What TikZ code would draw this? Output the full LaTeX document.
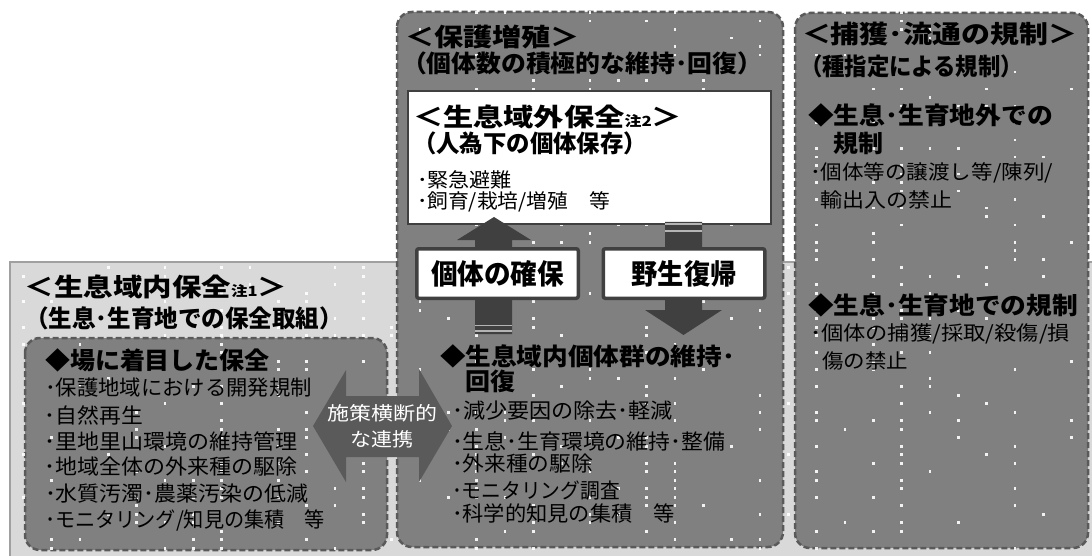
\documentclass[tikz,border=0pt]{standalone}
\usepackage{fontspec}
\setmainfont{Noto Sans CJK JP}
\usepackage{graphicx}
\definecolor{boxfill}{HTML}{808080}
\definecolor{boxline}{HTML}{5A5A5A}
\definecolor{lightfill}{HTML}{D9D9D9}
\definecolor{lightline}{HTML}{A0A0A0}
\definecolor{arrowdark}{HTML}{404040}
\definecolor{arrowmid}{HTML}{5A5A5A}
\definecolor{stripe}{HTML}{B4B4B4}
\newcommand\fitt[3]{\resizebox{#1pt}{\height}{\fontsize{#2}{#2}\selectfont #3}}
\newcommand\fitb[3]{\resizebox{#1pt}{\height}{\fontsize{#2}{#2}\selectfont\bfseries #3}}
\newcommand\chu[1]{{\fontsize{14}{14}\selectfont 注#1}}
\tikzset{
  dbox/.style={draw=boxline, fill=boxfill, line width=2.5pt, dash pattern=on 6pt off 3pt, rounded corners=15pt},
  wbox/.style={draw=arrowdark, fill=white, line width=2pt, inner sep=0, outer sep=0},
  kbox/.style={draw=arrowdark, fill=white, line width=3.5pt, rounded corners=2pt, inner sep=0, outer sep=0, minimum width=161.5pt, minimum height=49.5pt},
  txt/.style={anchor=west, inner sep=0, outer sep=0, text=black},
}
\begin{document}
\begin{tikzpicture}[x=1pt,y=-1pt]
\useasboundingbox (0,0) rectangle (1092,556);
\fill[white] (0,0) rectangle (1092,556);
% light gray area
\fill[lightfill] (10,262) rectangle (1092,556);
\draw[lightline, line width=2pt] (10,556) -- (10,262) -- (1092,262);
% dashed rounded boxes
\draw[dbox] (25,338) rectangle (387,550);
\draw[dbox] (397,12) rectangle (783,547);
\draw[dbox] (795,13) rectangle (1088,548);
% white dot texture
\pgfmathsetseed{4242}
\foreach \i in {0,...,37}{
  \pgfmathsetmacro\pc{0.06+0.42*rnd}
  \foreach \j in {0,...,64}{
    \pgfmathparse{rnd}
    \ifdim\pgfmathresult pt<\pc pt
      \fill[white, opacity=0.9] ({23.4+28.33*\i-1.3},{4+8.5*\j-1.3}) rectangle ++(2.6,2.8);
    \fi
  }
}
% ex-situ white box
\node[wbox, minimum width=363pt, minimum height=133pt] (gai) at (589.5,157.5) {};
% double arrow
\fill[arrowmid] (313,426) -- (346,370) -- (346,396) -- (419,396) -- (419,369) -- (452,426)
  -- (419,482) -- (419,457) -- (346,457) -- (346,482) -- cycle;
% up arrow (individual securing)
\fill[arrowdark] (475,334) -- (475,240) -- (457,240) -- (494,217) -- (531,240) -- (512,240) -- (512,334) -- cycle;
\fill[stripe] (475,324.6) rectangle (512,326.4);
\fill[stripe] (475,330.2) rectangle (512,331.6);
% down arrow (return to wild)
\fill[arrowdark] (665,222) -- (702,222) -- (702,310) -- (722,310) -- (683.5,335) -- (645,310) -- (665,310) -- cycle;
\fill[stripe] (665,223.4) rectangle (702,225.2);
\fill[stripe] (665,230.2) rectangle (702,231.8);
% boxes
\node[kbox] (kakuho) at (497.5,273.5) {\fitb{133}{28}{個体の確保}};
\node[kbox] (yasei) at (684,273.5) {\fitb{105}{28}{野生復帰}};
% middle texts
\node[txt] (m1) at (405,37) {\fitb{175}{25}{＜保護増殖＞}};
\node[txt] (m2) at (402,63) {\fitb{360}{24}{（個体数の積極的な維持･回復）}};
\node[txt] (m3) at (413,117) {\fitb{269}{25}{＜生息域外保全\chu{2}＞}};
\node[txt] (m4) at (413,143) {\fitb{234}{24}{（人為下の個体保存）}};
\node[txt] (m5) at (417,180) {\fitt{95}{20}{･緊急避難}};
\node[txt] (m6) at (417,202) {\fitt{193}{20}{･飼育/栽培/増殖　等}};
\node[txt] (m9) at (440,356) {\fitb{295}{24}{◆生息域内個体群の維持･}};
\node[txt] (m10) at (465,381) {\fitb{50}{24}{回復}};
\node[txt] (m11) at (452,411) {\fitt{221}{21}{･減少要因の除去･軽減}};
\node[txt] (m12) at (452,441) {\fitt{273}{21}{･生息･生育環境の維持･整備}};
\node[txt] (m13) at (452,464) {\fitt{141}{21}{･外来種の駆除}};
\node[txt] (m14) at (452,491) {\fitt{168}{21}{･モニタリング調査}};
\node[txt] (m15) at (452,514) {\fitt{223}{21}{･科学的知見の集積　等}};
% left texts
\node[txt] (l1) at (25,287) {\fitb{262}{25}{＜生息域内保全\chu{1}＞}};
\node[txt] (l2) at (25,318) {\fitb{318}{24}{（生息･生育地での保全取組）}};
\node[txt] (l3) at (45,360) {\fitb{225}{24}{◆場に着目した保全}};
\node[txt] (l4) at (45,388) {\fitt{267}{21}{･保護地域における開発規制}};
\node[txt] (l5) at (45,415) {\fitt{98}{21}{･自然再生}};
\node[txt] (l6) at (45,441) {\fitt{253}{21}{･里地里山環境の維持管理}};
\node[txt] (l7) at (45,467) {\fitt{253}{21}{･地域全体の外来種の駆除}};
\node[txt] (l8) at (45,494) {\fitt{263}{21}{･水質汚濁･農薬汚染の低減}};
\node[txt] (l9) at (45,521) {\fitt{280}{21}{･モニタリング/知見の集積　等}};
% arrow text
\node[txt, text=white] (a1) at (327,413) {\fitt{110}{19}{施策横断的}};
\node[txt, text=white] (a2) at (350,439) {\fitt{63}{19}{な連携}};
% right texts
\node[txt] (r1) at (802,34) {\fitb{275}{25}{＜捕獲･流通の規制＞}};
\node[txt] (r2) at (800,66) {\fitb{223}{24}{（種指定による規制）}};
\node[txt] (r3) at (808,115) {\fitb{245}{24}{◆生息･生育地外での}};
\node[txt] (r4) at (833,143) {\fitb{50}{24}{規制}};
\node[txt] (r5) at (810,173) {\fitt{243}{20}{･個体等の譲渡し等/陳列/}};
\node[txt] (r6) at (820,200) {\fitt{132}{20}{輸出入の禁止}};
\node[txt] (r7) at (808,305) {\fitb{270}{24}{◆生息･生育地での規制}};
\node[txt] (r8) at (810,334) {\fitt{260}{20}{･個体の捕獲/採取/殺傷/損}};
\node[txt] (r9) at (822,361) {\fitt{86}{20}{傷の禁止}};
\end{tikzpicture}
\end{document}
